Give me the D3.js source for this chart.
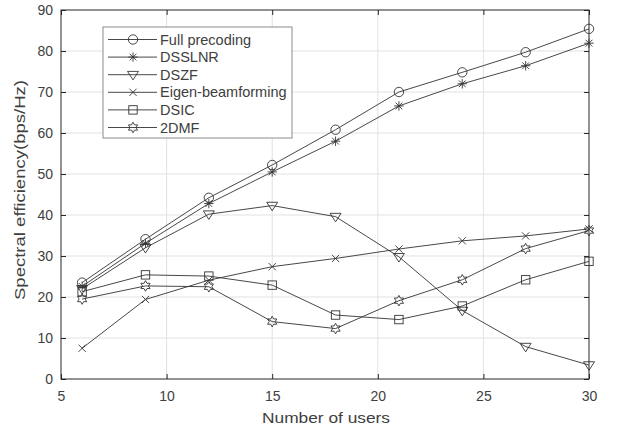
<!DOCTYPE html>
<html>
<head>
<meta charset="utf-8">
<script src="https://cdn.jsdelivr.net/npm/d3@7"></script>
<style>
  body { margin: 0; background: #fff; }
  text { font-family: "Liberation Sans", Arial, sans-serif; fill: #404040; }
</style>
</head>
<body>
<div class="container"></div>
<script>
var users = [6, 9, 12, 15, 18, 21, 24, 27, 30];

var fullPrecoding = [23.5, 34.1, 44.2, 52.2, 60.8, 70.0, 74.8, 79.7, 85.4];
var dsslnr = [22.6, 33.1, 42.8, 50.5, 58.0, 66.6, 72.0, 76.4, 81.9];
var dszf = [22.0, 32.0, 40.2, 42.3, 39.6, 29.8, 16.7, 7.9, 3.4];
var eigenBeamforming = [7.5, 19.4, 24.1, 27.4, 29.4, 31.7, 33.7, 34.9, 36.6];
var dsic = [21.3, 25.4, 25.1, 22.9, 15.6, 14.5, 17.8, 24.2, 28.7];
var dmf2 = [19.5, 22.7, 22.5, 14.0, 12.3, 19.1, 24.2, 31.8, 36.2];

var seriesNames = ["Full precoding", "DSSLNR", "DSZF", "Eigen-beamforming", "DSIC", "2DMF"];
var seriesValues = [fullPrecoding, dsslnr, dszf, eigenBeamforming, dsic, dmf2];
var markerTypes = ["circle", "asterisk", "triangle", "cross", "square", "hexagram"];

var xTicks = [5, 10, 15, 20, 25, 30];
var yTicks = [0, 10, 20, 30, 40, 50, 60, 70, 80, 90];

const WIDTH = 623;
const HEIGHT = 430;
const LEFT = 61, RIGHT = 589, TOP = 10, BOTTOM = 379;
const LINE_COLOR = "#333";

var translate = function(x, y){
	return "translate(" + x + "," + y + ")";
};

var svg = d3.select('.container').append('svg')
	.attr('width', WIDTH)
	.attr('height', HEIGHT);

var xScale = d3.scaleLinear().domain([5, 30]).range([LEFT, RIGHT]);
var yScale = d3.scaleLinear().domain([0, 90]).range([BOTTOM, TOP]);

// grid
svg.append('g').selectAll('line').data(xTicks.slice(1, -1))
	.enter().append('line')
	.attr('x1', d => xScale(d)).attr('x2', d => xScale(d))
	.attr('y1', TOP).attr('y2', BOTTOM)
	.attr('stroke', '#e1e1e1').attr('stroke-width', 1);

svg.append('g').selectAll('line').data(yTicks.slice(1, -1))
	.enter().append('line')
	.attr('x1', LEFT).attr('x2', RIGHT)
	.attr('y1', d => yScale(d)).attr('y2', d => yScale(d))
	.attr('stroke', '#e1e1e1').attr('stroke-width', 1);

// axes, ticks inward
var styleAxis = function(g){
	g.select('.domain').remove();
	g.selectAll('line').attr('stroke', '#262626');
	g.selectAll('text').style('font-size', '14px').attr('fill', '#404040');
};

svg.append('g').attr('transform', translate(0, BOTTOM))
	.call(d3.axisBottom(xScale).tickValues(xTicks).tickSizeInner(-5).tickSizeOuter(0).tickPadding(12))
	.call(styleAxis);
svg.append('g').attr('transform', translate(0, TOP))
	.call(d3.axisTop(xScale).tickValues(xTicks).tickSizeInner(-5).tickSizeOuter(0).tickFormat(''))
	.call(styleAxis);
svg.append('g').attr('transform', translate(LEFT, 0))
	.call(d3.axisLeft(yScale).tickValues(yTicks).tickSizeInner(-5).tickSizeOuter(0).tickPadding(8))
	.call(styleAxis);
svg.append('g').attr('transform', translate(RIGHT, 0))
	.call(d3.axisRight(yScale).tickValues(yTicks).tickSizeInner(-5).tickSizeOuter(0).tickFormat(''))
	.call(styleAxis);

svg.append('rect')
	.attr('x', LEFT).attr('y', TOP)
	.attr('width', RIGHT - LEFT).attr('height', BOTTOM - TOP)
	.attr('fill', 'none').attr('stroke', '#262626').attr('stroke-width', 1);

// labels
svg.append('text')
	.attr('x', 326).attr('y', 423)
	.attr('text-anchor', 'middle')
	.attr('textLength', 128).attr('lengthAdjust', 'spacingAndGlyphs')
	.style('font-size', '15.5px')
	.text('Number of users');

svg.append('text')
	.attr('transform', translate(25, 190) + ' rotate(-90)')
	.attr('text-anchor', 'middle')
	.attr('textLength', 220).attr('lengthAdjust', 'spacingAndGlyphs')
	.style('font-size', '15.5px')
	.text('Spectral efficiency(bps/Hz)');

// marker drawing
var drawMarker = function(g, type){
	var s = 4.7;
	if (type === 'circle') {
		g.append('circle').attr('r', s);
	} else if (type === 'asterisk') {
		var a = s * 0.72;
		g.append('path').attr('d',
			'M0,' + (-s) + 'L0,' + s +
			'M' + (-s) + ',0L' + s + ',0' +
			'M' + (-a) + ',' + (-a) + 'L' + a + ',' + a +
			'M' + (-a) + ',' + a + 'L' + a + ',' + (-a));
	} else if (type === 'triangle') {
		var t = 5.5;
		g.append('path').attr('d', 'M' + (-t) + ',' + (-t * 0.6) + 'L' + t + ',' + (-t * 0.6) + 'L0,' + (t * 0.95) + 'Z');
	} else if (type === 'cross') {
		var c = 3.6;
		g.append('path').attr('d', 'M' + (-c) + ',' + (-c) + 'L' + c + ',' + c + 'M' + (-c) + ',' + c + 'L' + c + ',' + (-c));
	} else if (type === 'square') {
		var q = 4.2;
		g.append('rect').attr('x', -q).attr('y', -q).attr('width', 2 * q).attr('height', 2 * q);
	} else if (type === 'hexagram') {
		var pts = [];
		for (var k = 0; k < 12; k++) {
			var r = k % 2 === 0 ? 5.3 : 3.0;
			var ang = -Math.PI / 2 + k * Math.PI / 6;
			pts.push([r * Math.cos(ang), r * Math.sin(ang)]);
		}
		g.append('path').attr('d', d3.line()(pts) + 'Z');
	}
	g.selectAll('*').attr('fill', 'none').attr('stroke', LINE_COLOR).attr('stroke-width', 0.9);
};

var line = d3.line()
	.x((d, i) => xScale(users[i]))
	.y(d => yScale(d));

seriesValues.forEach(function(values, si){
	svg.append('path')
		.attr('d', line(values))
		.attr('fill', 'none')
		.attr('stroke', LINE_COLOR)
		.attr('stroke-width', 0.9);

	svg.append('g').selectAll('g').data(values)
		.enter().append('g')
		.attr('transform', (d, i) => translate(xScale(users[i]), yScale(d)))
		.each(function(){ drawMarker(d3.select(this), markerTypes[si]); });
});

// legend
var legend = svg.append('g');
legend.append('rect')
	.attr('x', 103).attr('y', 27)
	.attr('width', 189).attr('height', 111)
	.attr('fill', '#fff').attr('stroke', '#8c8c8c').attr('stroke-width', 1);

seriesNames.forEach(function(name, i){
	var y = 39.5 + i * 17.6;
	legend.append('line')
		.attr('x1', 108).attr('x2', 157)
		.attr('y1', y).attr('y2', y)
		.attr('stroke', LINE_COLOR).attr('stroke-width', 0.9);
	drawMarker(legend.append('g').attr('transform', translate(133, y)), markerTypes[i]);
	legend.append('text')
		.attr('x', 160).attr('y', y + 5)
		.style('font-size', '14.5px')
		.attr('fill', '#1a1a1a')
		.text(name);
});
</script>
</body>
</html>
